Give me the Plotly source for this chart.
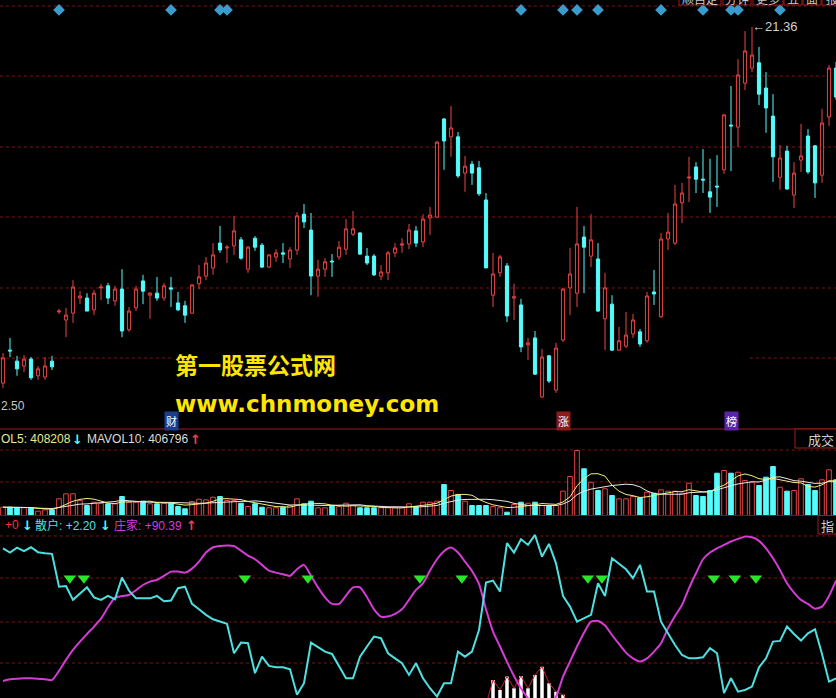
import plotly.graph_objects as go
import pandas as pd

W, H = 836, 698

# ---------------- data ----------------
days = list(range(120))
opens = [12.61, 13.42, 13.15, 13.03, 13.20, 12.79, 12.76, 13.15, 14.36, 14.16,
         14.33, 14.70, 14.70, 14.41, 14.95, 15.00, 14.63, 14.92, 13.92, 14.46,
         15.12, 14.77, 14.82, 14.70, 14.95, 14.58, 14.51, 14.33, 15.05, 15.24,
         15.44, 16.05, 15.93, 15.98, 16.13, 15.41, 16.17, 16.00, 15.46, 15.71,
         15.81, 15.66, 15.88, 16.76, 16.37, 15.24, 15.41, 15.61, 15.71, 15.90,
         16.27, 16.30, 15.73, 15.73, 15.24, 15.32, 15.81, 16.00, 16.03, 16.35,
         16.08, 16.67, 16.69, 19.10, 18.66, 18.66, 17.77, 17.99, 17.90, 17.11,
         14.77, 15.32, 15.49, 14.70, 14.53, 13.55, 13.72, 12.27, 13.28, 12.44,
         13.67, 14.95, 14.82, 16.20, 15.73, 15.66, 14.19, 14.55, 13.42, 13.52,
         13.82, 13.87, 13.65, 14.85, 14.24, 16.15, 16.05, 17.04, 17.65, 17.92,
         17.62, 17.31, 17.45, 17.85, 18.95, 18.90, 19.98, 20.35, 20.48, 19.86,
         19.17, 17.67, 18.31, 17.23, 18.09, 18.68, 18.44, 17.72, 19.15, 20.35]
highs = [13.35, 13.72, 13.28, 13.30, 13.25, 13.03, 13.25, 13.28, 14.43, 14.46,
         15.14, 14.87, 14.82, 14.90, 15.05, 15.07, 15.00, 15.41, 14.48, 15.00,
         15.27, 14.85, 15.22, 15.07, 15.22, 14.85, 14.63, 15.05, 15.51, 15.71,
         16.05, 16.47, 16.00, 16.72, 16.20, 15.98, 16.22, 16.05, 15.78, 15.90,
         16.05, 15.95, 16.81, 17.01, 16.79, 15.64, 15.68, 15.78, 16.10, 16.64,
         16.84, 16.32, 15.93, 15.78, 15.51, 15.86, 16.05, 16.17, 16.52, 16.47,
         16.76, 16.94, 18.56, 19.12, 19.42, 18.78, 18.19, 18.07, 18.07, 17.28,
         15.81, 15.76, 15.56, 15.05, 14.68, 13.72, 13.89, 13.45, 13.30, 13.60,
         14.95, 15.93, 16.94, 16.47, 16.76, 16.05, 15.32, 14.77, 13.99, 14.36,
         14.31, 13.94, 14.85, 15.39, 16.30, 16.79, 17.48, 17.53, 18.17, 18.04,
         18.36, 18.12, 18.21, 19.22, 19.91, 20.57, 21.26, 21.36, 20.87, 20.25,
         19.71, 18.46, 18.44, 18.04, 18.98, 18.85, 18.46, 19.35, 20.43, 20.50]
lows = [12.49, 13.25, 12.79, 12.88, 12.69, 12.69, 12.69, 12.93, 14.31, 13.74,
        14.09, 14.55, 14.38, 14.28, 14.65, 14.55, 14.51, 13.74, 13.87, 14.38,
        14.55, 14.19, 14.63, 14.63, 14.48, 14.38, 14.09, 14.31, 14.92, 15.14,
        15.27, 15.81, 15.56, 15.76, 15.64, 15.32, 15.86, 15.44, 15.44, 15.59,
        15.56, 15.44, 15.76, 16.42, 14.77, 14.73, 15.22, 15.22, 15.64, 15.76,
        16.22, 15.76, 15.51, 15.24, 15.14, 15.14, 15.71, 15.81, 15.90, 15.95,
        15.95, 16.25, 16.67, 17.85, 18.17, 17.65, 17.31, 17.48, 17.21, 15.44,
        14.48, 15.22, 14.11, 14.16, 13.37, 13.18, 12.81, 12.24, 12.61, 12.37,
        13.62, 14.28, 14.48, 14.82, 15.46, 14.36, 13.42, 13.40, 13.40, 13.47,
        13.72, 13.50, 13.60, 14.53, 14.21, 15.88, 16.00, 16.54, 17.06, 17.28,
        17.28, 16.79, 16.94, 17.75, 17.82, 18.41, 19.81, 20.25, 19.44, 18.76,
        17.55, 17.36, 17.36, 16.91, 17.80, 17.75, 17.16, 17.53, 18.93, 19.57]
closes = [13.23, 13.40, 12.96, 13.20, 12.74, 12.96, 13.03, 13.01, 14.38, 14.28,
          14.97, 14.75, 14.38, 14.82, 14.97, 14.70, 14.92, 13.89, 14.38, 14.92,
          14.87, 14.82, 14.70, 15.00, 14.92, 14.41, 14.28, 15.02, 15.22, 15.56,
          15.76, 15.88, 15.95, 16.35, 15.68, 15.95, 15.95, 15.46, 15.76, 15.81,
          15.78, 15.88, 16.72, 16.57, 15.24, 15.41, 15.59, 15.59, 15.95, 16.40,
          16.40, 15.78, 15.56, 15.27, 15.34, 15.81, 15.93, 16.03, 16.37, 16.05,
          16.64, 16.74, 18.53, 18.56, 18.88, 17.70, 17.94, 17.77, 17.26, 15.44,
          15.29, 15.71, 14.26, 14.73, 13.50, 13.60, 12.83, 13.25, 12.66, 13.47,
          14.92, 15.29, 16.03, 15.95, 16.13, 14.38, 14.95, 13.42, 13.65, 13.79,
          14.16, 13.57, 14.75, 14.80, 16.15, 16.32, 17.01, 17.28, 17.67, 17.62,
          17.60, 17.18, 17.43, 19.20, 18.93, 20.18, 20.77, 20.67, 19.71, 19.37,
          18.17, 18.14, 17.38, 17.77, 18.19, 17.80, 17.53, 19.00, 20.35, 19.64]
# volume, thousands of shares
volume_k = [98, 98, 91, 91, 91, 51, 67, 67, 197, 256,
            256, 177, 118, 157, 145, 138, 138, 224, 157, 157,
            169, 138, 138, 145, 145, 106, 79, 165, 192, 185,
            216, 224, 177, 177, 145, 106, 138, 98, 91, 91,
            98, 118, 197, 138, 169, 91, 91, 118, 106, 145,
            118, 91, 91, 91, 91, 91, 91, 91, 138, 106,
            157, 157, 169, 366, 295, 248, 169, 118, 118, 118,
            106, 91, 39, 130, 157, 145, 157, 118, 118, 118,
            287, 460, 767, 551, 393, 295, 315, 236, 197, 197,
            224, 209, 275, 263, 303, 287, 287, 263, 381, 236,
            224, 295, 499, 531, 499, 511, 413, 393, 354, 452,
            578, 334, 287, 295, 433, 366, 295, 421, 539, 421]
retail = [92.7, 90.2, 93.1, 91.0, 93.3, 90.4, 89.8, 89.4, 70.0, 70.4,
          62.2, 66.1, 69.6, 63.7, 62.2, 64.5, 62.5, 75.4, 67.7, 63.1,
          63.1, 63.1, 64.5, 61.4, 61.8, 69.1, 70.0, 59.8, 56.6, 53.3,
          50.7, 49.3, 48.0, 30.6, 36.9, 36.5, 18.8, 28.6, 23.1, 22.3,
          22.3, 21.1, 6.0, 12.9, 36.9, 34.2, 31.6, 30.2, 22.7, 15.8,
          15.8, 28.6, 34.6, 40.5, 39.5, 30.6, 27.6, 24.7, 17.8, 24.7,
          15.8, 9.9, 5.0, 12.9, 12.9, 31.6, 28.6, 31.6, 44.4, 72.4,
          73.6, 67.1, 95.7, 90.2, 98.0, 94.7, 100.6, 87.8, 95.3, 83.8,
          64.5, 58.2, 49.3, 51.3, 53.3, 72.0, 64.5, 86.8, 83.5, 80.3,
          75.0, 82.9, 67.1, 67.1, 49.3, 42.4, 35.5, 29.6, 27.6, 27.6,
          28.2, 33.6, 30.6, 7.0, 15.8, 7.9, 8.9, 10.9, 22.3, 27.6,
          37.5, 37.9, 46.4, 42.0, 38.1, 42.4, 44.8, 30.2, 13.8, 15.8]
dealer = [14.2, 15.2, 15.6, 15.8, 15.8, 15.6, 15.2, 14.8, 20.2, 26.7,
          32.6, 37.5, 42.0, 46.4, 51.1, 57.8, 63.5, 64.5, 65.1, 67.9,
          71.0, 73.0, 74.0, 76.4, 78.9, 78.9, 78.3, 80.7, 84.8, 90.2,
          93.3, 94.1, 94.3, 94.1, 91.3, 88.4, 86.2, 82.9, 79.5, 78.3,
          77.3, 76.4, 80.3, 82.9, 76.4, 69.6, 63.7, 59.8, 59.8, 64.7,
          69.6, 69.6, 63.7, 56.6, 52.3, 52.3, 53.9, 56.6, 62.2, 68.1,
          72.0, 79.5, 86.2, 91.0, 93.1, 90.2, 84.8, 79.3, 71.6, 56.6,
          43.4, 34.6, 25.5, 17.2, 9.9, 4.0, 0.0, -1.9, 1.0, 5.0,
          16.8, 25.7, 34.6, 42.8, 49.3, 49.7, 47.0, 41.4, 36.1, 31.0,
          27.6, 25.7, 27.6, 31.6, 36.5, 45.4, 52.7, 59.2, 69.1, 77.9,
          86.2, 90.2, 92.7, 94.7, 96.7, 98.2, 99.6, 99.2, 97.1, 92.7,
          86.8, 79.9, 72.0, 66.5, 62.2, 59.8, 57.0, 58.2, 64.5, 73.6]
hist_days = list(range(69, 82))
hist_vals = [0.0, 14.8, 8.9, 16.8, 9.9, 17.2, 9.9, 17.8, 22.7, 12.9, 7.9, 6.0, 0.0]
signal_days = [9, 11, 34, 43, 59, 65, 83, 85, 101, 104, 107]
signal_level = 75
diamond_days = [8, 24, 31, 32, 74, 80, 82, 85, 94, 100, 104, 105, 111]
diamond_price = 21.78
event_days = [24, 80, 104]
event_labels = ['财', '涨', '榜']
high_day, high_text = 107, '21.36'
low_text = '2.50'
vol_header = ['OL5: 408208', 'MAVOL10: 406796']
ind_header = ['+0', '散户: +2.20', '庄家: +90.39']
buttons = ['顺自定', '分钟', '更多', '五', '面', '报']

# ---------------- styles ----------------
RED = '#e84444'
CYAN = '#54fcfc'
MAG = '#d43cd4'
GRID = '#7a1414'
FONT = 'Liberation Sans, Arial, Noto Sans CJK SC, sans-serif'
CJK = 'Noto Sans CJK SC, sans-serif'


def py(ypx):
    return 1 - ypx / H


def px(xpx):
    return xpx / W


fig = go.Figure()

# price candles
fig.add_trace(go.Candlestick(
    x=days, open=opens, high=highs, low=lows, close=closes,
    increasing=dict(line=dict(color=RED, width=1), fillcolor='#000000'),
    decreasing=dict(line=dict(color=CYAN, width=1), fillcolor=CYAN),
    whiskerwidth=0, xaxis='x', yaxis='y', hoverinfo='skip', showlegend=False))

fig.add_trace(go.Scatter(
    x=diamond_days, y=[diamond_price] * len(diamond_days), mode='markers',
    marker=dict(symbol='diamond', size=9, color='#3a9ccc'),
    xaxis='x', yaxis='y', hoverinfo='skip', showlegend=False))

# volume
up = [c >= o for o, c in zip(opens, closes)]
fig.add_trace(go.Bar(
    x=days, y=volume_k, width=0.66,
    marker=dict(color=['#000000' if u else CYAN for u in up],
                line=dict(color=[RED if u else CYAN for u in up], width=1)),
    xaxis='x', yaxis='y2', hoverinfo='skip', showlegend=False))
vol = pd.Series(volume_k, dtype=float)
ma5 = vol.rolling(5, min_periods=1).mean()
ma10 = vol.rolling(10, min_periods=1).mean()
fig.add_trace(go.Scatter(x=days, y=ma10, mode='lines', line=dict(color='#e8e8e8', width=1),
                         xaxis='x', yaxis='y2', hoverinfo='skip', showlegend=False))
fig.add_trace(go.Scatter(x=days, y=ma5, mode='lines', line=dict(color='#f0f080', width=1),
                         xaxis='x', yaxis='y2', hoverinfo='skip', showlegend=False))

# indicator panel
fig.add_trace(go.Bar(x=hist_days, y=hist_vals, width=0.5, marker=dict(color='#ffffff', line=dict(width=0)),
                     xaxis='x', yaxis='y3', hoverinfo='skip', showlegend=False))
fig.add_trace(go.Scatter(x=hist_days, y=hist_vals, mode='lines', line=dict(color='#c82020', width=1),
                         xaxis='x', yaxis='y3', hoverinfo='skip', showlegend=False))
fig.add_trace(go.Scatter(x=days, y=dealer, mode='lines', line=dict(color=MAG, width=2, shape='spline', smoothing=0.6),
                         xaxis='x', yaxis='y3', hoverinfo='skip', showlegend=False))
fig.add_trace(go.Scatter(x=days, y=retail, mode='lines', line=dict(color='#4ee0e0', width=2),
                         xaxis='x', yaxis='y3', hoverinfo='skip', showlegend=False))
fig.add_trace(go.Scatter(x=[d + 0.55 for d in signal_days], y=[signal_level] * len(signal_days), mode='markers',
                         marker=dict(symbol='triangle-down', size=11, color='#28e628'),
                         xaxis='x', yaxis='y3', hoverinfo='skip', showlegend=False))

# ---------------- shapes ----------------
shapes = []


def hline(ypx, x0=0, x1=W, color=GRID, dash='dot', layer='below'):
    shapes.append(dict(type='line', xref='paper', yref='paper', x0=px(x0), x1=px(x1),
                       y0=py(ypx), y1=py(ypx), line=dict(color=color, width=1, dash=dash), layer=layer))


for yy in [6, 76, 147, 217, 288]:
    hline(yy)
hline(358, 0, 172)
hline(358, 750, W)
for yy in [450, 482]:
    hline(yy)
for yy in [536, 578, 622, 663]:
    hline(yy)
hline(429, color='#a01c1c', dash='solid', layer='above')
hline(515.5, color='#7a1414', dash='solid', layer='above')


def rect(x0, x1, y0, y1, color='#a01c1c'):
    shapes.append(dict(type='rect', xref='paper', yref='paper', x0=px(x0), x1=px(x1),
                       y0=py(y1), y1=py(y0), line=dict(color=color, width=1),
                       fillcolor='#000000', layer='above'))


rect(795, 840, 429, 448)
rect(818, 840, 515.5, 534)
btn_edges = [(679, 721), (723, 751), (753, 783), (784, 802), (803, 821), (822, 842)]
for x0, x1 in btn_edges:
    rect(x0, x1, -12, 5)

# ---------------- annotations ----------------
anns = []


def txt(s, x, y, color, size=12, family=FONT, xanchor='left', bg=None, xref='paper'):
    d = dict(text=s, xref=xref, yref='paper', x=px(x) if xref == 'paper' else x, y=py(y),
             xanchor=xanchor, yanchor='middle', showarrow=False,
             font=dict(color=color, size=size, family=family), borderpad=0)
    if bg:
        d.update(bgcolor=bg, borderpad=1)
    anns.append(d)


# high / low labels
anns.append(dict(text='←' + high_text, x=high_day, y=float(max(highs)), xref='x', yref='y',
                 xanchor='left', yanchor='middle', showarrow=False, xshift=-2,
                 font=dict(color='#d0d0d0', size=13, family=FONT)))
txt(low_text, 0, 406, '#c8c8c8', 12)

# watermark
txt('<b>第一股票公式网</b>', 174, 364, '#ffe600', 23, CJK)
txt('<b>www.chnmoney.com</b>', 174, 404, '#ffe600', 23, 'DejaVu Sans, sans-serif')

# event tags
tag_bg = ['#1c3c8c', '#8c1c1c', '#5a24a8']
for d, lab, bg in zip(event_days, event_labels, tag_bg):
    txt(lab, d, 421, '#ffffff', 11, CJK, xanchor='center', bg=bg, xref='x')

ARROW_FONT = 'DejaVu Sans, sans-serif'
# volume header
txt(vol_header[0], 0, 439, '#e8e890', 12)
txt('<b>↓</b>', 71, 439, CYAN, 13, ARROW_FONT)
txt(vol_header[1], 86, 439, '#dcdcdc', 12)
txt('<b>↑</b>', 189, 439, RED, 13, ARROW_FONT)
txt('成交', 835, 439, '#d0d0d0', 13, CJK, xanchor='right')

# indicator header
txt(ind_header[0], 4, 525, '#ff3030', 12)
txt('<b>↓</b>', 21, 525, CYAN, 13, ARROW_FONT)
txt(ind_header[1], 34, 525, '#4ee0e0', 12)
txt('<b>↓</b>', 99, 525, CYAN, 13, ARROW_FONT)
txt(ind_header[2], 113, 525, MAG, 12)
txt('<b>↑</b>', 185, 525, RED, 13, ARROW_FONT)
txt('指', 835, 525, '#d0d0d0', 13, CJK, xanchor='right')

# top buttons (partly above the window, as in the reference)
for (x0, x1), lab in zip(btn_edges, buttons):
    txt(lab, (x0 + x1) / 2, -1, '#c8c8c8', 12, CJK, xanchor='center')

fig.update_layout(
    width=W, height=H,
    margin=dict(l=0, r=0, t=0, b=0),
    paper_bgcolor='#000000', plot_bgcolor='#000000',
    showlegend=False, hovermode=False, barmode='overlay', boxgap=0.35,
    xaxis=dict(range=[-0.4286, 119.0], visible=False, fixedrange=True,
               rangeslider=dict(visible=False), domain=[0, 1], anchor='y3'),
    yaxis=dict(domain=[py(428), 1], range=[11.507, 22.023], visible=False, fixedrange=True),
    yaxis2=dict(domain=[py(515.5), py(429)], range=[0, 1020.7], visible=False, fixedrange=True),
    yaxis3=dict(domain=[0, py(515.5)], range=[4.14, 112.1], visible=False, fixedrange=True),
    shapes=shapes, annotations=anns,
)

fig.write_html('out.html', config=dict(displayModeBar=False),
               post_script="document.body.style.margin='0';document.body.style.background='#000';")
